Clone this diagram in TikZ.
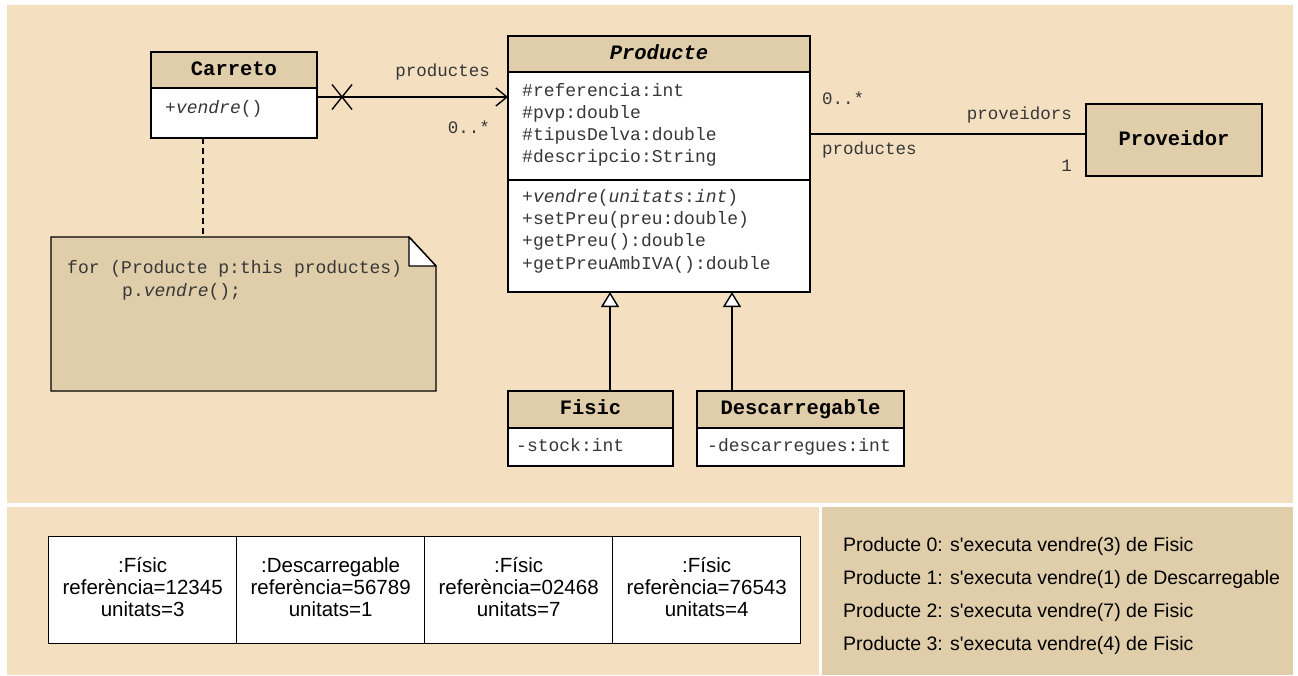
\documentclass[tikz,border=0pt]{standalone}
\usepackage{fontspec}
\newfontfamily\umlmono{Liberation Mono}
\newfontfamily\plainsans{Liberation Sans}
\usetikzlibrary{arrows.meta,calc}

\definecolor{panel}{RGB}{244,224,193}
\definecolor{tan}{RGB}{224,205,170}
\definecolor{ink}{RGB}{55,55,55}

\newcommand\monoreg{\umlmono\fontsize{18}{22}\selectfont}
\newcommand\monolabel{\umlmono\fontsize{17.5}{22}\selectfont}
\newcommand\monohead{\umlmono\bfseries\fontsize{20.5}{24}\selectfont}
\newcommand\objtext{\plainsans\fontsize{20.5}{22}\selectfont}
\newcommand\runtext{\plainsans\fontsize{19.5}{24}\selectfont}

\begin{document}
\begin{tikzpicture}[x=1pt,y=-1pt,
  umlbox/.style={draw, line width=1.4pt, anchor=north west, inner sep=0pt, outer sep=0pt},
  clshead/.style={umlbox, fill=tan, font=\monohead, text height=1.08em, text depth=.04em},
  clsbody/.style={umlbox, fill=white},
  member/.style={anchor=west, inner sep=0pt, font=\monoreg, text=ink, text height=1.1em, text depth=.02em},
  rolelabel/.style={inner sep=0pt, font=\monolabel, text=ink, text height=1.1em, text depth=.02em},
  conn/.style={line width=1.4pt},
  assoc/.style={conn, -{Straight Barb[length=11pt, width=18pt]}},
  gen/.style={conn, -{Triangle[fill=white, length=15pt, width=18pt, line width=1.4pt]}},
  anchorline/.style={conn, dash pattern=on 6pt off 4pt},
  objcell/.style={draw, line width=1.3pt, fill=white, anchor=north west, inner sep=0pt,
    minimum width=188pt, minimum height=107pt},
  objlabel/.style={inner sep=0pt, align=center, font=\objtext},
  runline/.style={anchor=west, inner sep=0pt, font=\runtext, text height=1.1em, text depth=.04em}
]
\useasboundingbox (0,0) rectangle (1298,675);

% background panels
\fill[panel] (7,5) rectangle (1293,503);
\fill[panel] (7,507) rectangle (819,675);
\fill[tan] (822,507) rectangle (1293,675);

% ---- class Carreto
\node[clsbody, minimum width=166pt, minimum height=50pt] (carB) at (151,88) {};
\node[clshead, minimum width=166pt, minimum height=36pt] (carH) at (151,52) {Carreto};
\node[member] (carM) at (165,108) {+\textit{vendre}()};

% ---- class Producte
\node[clsbody, minimum width=302pt, minimum height=108pt] (prA) at (508,72) {};
\node[clsbody, minimum width=302pt, minimum height=112pt] (prM) at (508,180) {};
\node[clshead, minimum width=302pt, minimum height=36pt] (prH) at (508,36) {\itshape Producte};
\node[member] (pa0) at (522,91)  {\#referencia:int};
\node[member] (pa1) at (522,113) {\#pvp:double};
\node[member] (pa2) at (522,135) {\#tipusDelva:double};
\node[member] (pa3) at (522,157) {\#descripcio:String};
\node[member] (pm0) at (522,197) {+\textit{vendre}(\textit{unitats}:\textit{int})};
\node[member] (pm1) at (522,219) {+setPreu(preu:double)};
\node[member] (pm2) at (522,241) {+getPreu():double};
\node[member] (pm3) at (522,264) {+getPreuAmbIVA():double};

% ---- class Proveidor
\node[clshead, minimum width=176pt, minimum height=72pt] (prov) at (1086,104) {Proveidor};

% ---- subclasses
\node[clsbody, minimum width=165pt, minimum height=38pt] (fisB) at (508,428) {};
\node[clshead, minimum width=165pt, minimum height=37pt] (fisH) at (508,391) {Fisic};
\node[member] (fisA) at (516,446) {-stock:int};
\node[clsbody, minimum width=207pt, minimum height=38pt] (desB) at (697,428) {};
\node[clshead, minimum width=207pt, minimum height=37pt] (desH) at (697,391) {Descarregable};
\node[member] (desA) at (707,446) {-descarregues:int};

% ---- note attached to Carreto
\node[inner sep=0pt, outer sep=0pt, anchor=north west, minimum width=385pt, minimum height=154pt] (note) at (51,237) {};
\draw[line width=1.4pt, fill=tan] (note.north west) -- ([xshift=-27pt]note.north east)
  -- ([yshift=-29pt]note.north east) -- (note.south east) -- (note.south west) -- cycle;
\draw[line width=1.4pt, fill=white, line join=round] ([xshift=-27pt]note.north east)
  -- ([xshift=-27pt, yshift=-29pt]note.north east) -- ([yshift=-29pt]note.north east) -- cycle;
\node[member] (code1) at (67,268) {for (Producte p:this productes)};
\node[member] (code2) at (122,291) {p.\textit{vendre}();};

% ---- connectors
\coordinate (assocY) at (0,97);
\draw[assoc] (carB.east |- assocY) -- (prA.west |- assocY);
\path (carB.east |- assocY) ++(25,0) coordinate (navX);
\draw[conn] (navX) ++(-10,-12.5) -- ++(20,25);
\draw[conn] (navX) ++(-10,12.5) -- ++(20,-25);
\node[rolelabel, anchor=east] (lp1) at (490,71) {productes};
\node[rolelabel, anchor=east] (lm1) at (490,128) {0..*};

\coordinate (provY) at (0,134);
\draw[conn] (prA.east |- provY) -- (prov.west |- provY);
\node[rolelabel, anchor=west] (lm2) at (822,99) {0..*};
\node[rolelabel, anchor=west] (lp2) at (822,149) {productes};
\node[rolelabel, anchor=east] (lv2) at (1072,114) {proveidors};
\node[rolelabel, anchor=east] (lo2) at (1072,166) {1};

\coordinate (noteX) at (203,0);
\draw[anchorline] (carB.south -| noteX) -- (note.north -| noteX);

\coordinate (fisX) at (610,0);
\coordinate (desX) at (732,0);
\draw[gen] (fisH.north -| fisX) -- (prM.south -| fisX);
\draw[gen] (desH.north -| desX) -- (prM.south -| desX);

% ---- object instances
\node[objcell] (obj1) at (48,536)  {};
\node[objcell] (obj2) at (236,536) {};
\node[objcell] (obj3) at (424,536) {};
\node[objcell] (obj4) at (612,536) {};
\node[objlabel] (objt1) at ($(obj1.center)+(0,-3)$) {:Físic\\referència=12345\\unitats=3};
\node[objlabel] (objt2) at ($(obj2.center)+(0,-3)$) {:Descarregable\\referència=56789\\unitats=1};
\node[objlabel] (objt3) at ($(obj3.center)+(0,-3)$) {:Físic\\referència=02468\\unitats=7};
\node[objlabel] (objt4) at ($(obj4.center)+(0,-3)$) {:Físic\\referència=76543\\unitats=4};

% ---- execution trace
\node[runline] (run0) at (843,546) {Producte 0: s'executa vendre(3) de Fisic};
\node[runline] (run1) at (843,579) {Producte 1: s'executa vendre(1) de Descarregable};
\node[runline] (run2) at (843,612) {Producte 2: s'executa vendre(7) de Fisic};
\node[runline] (run3) at (843,645) {Producte 3: s'executa vendre(4) de Fisic};
\end{tikzpicture}
\end{document}
